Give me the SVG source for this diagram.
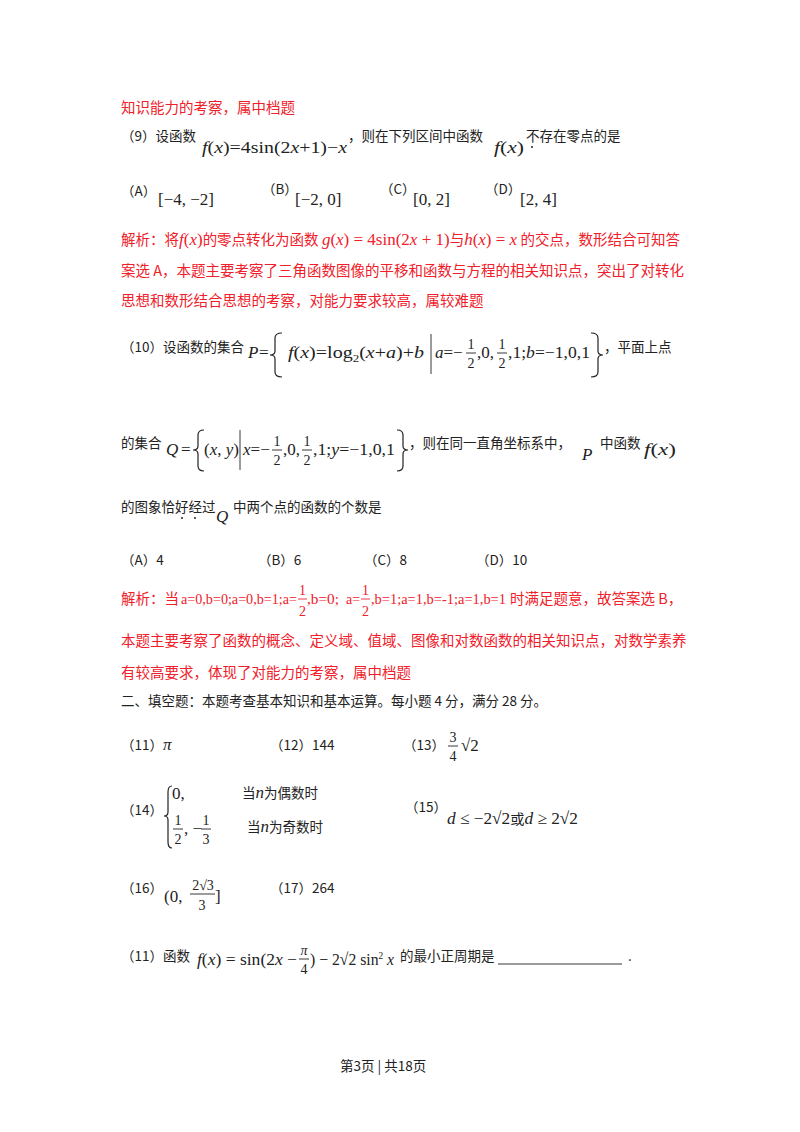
<svg xmlns="http://www.w3.org/2000/svg" width="800" height="1132" viewBox="0 0 800 1132">
<style>
.c{font-family:"Noto Sans CJK SC","Liberation Serif",serif;font-size:13.5px;fill:#222}
.r{font-family:"Noto Sans CJK SC","Liberation Serif",serif;font-size:14.5px;fill:#f0202a}
.m{font-family:"Liberation Serif",serif;font-size:17px;fill:#222}
.mr{font-family:"Liberation Serif",serif;font-size:17px;fill:#f0202a}
.i{font-style:italic}
.s{font-family:"Liberation Serif",serif;font-size:14px;fill:#222;text-anchor:middle}
.sr{font-family:"Liberation Serif",serif;font-size:14px;fill:#f0202a}
.ln{stroke:#222;stroke-width:0.9}
.br{stroke:#222;stroke-width:1.2;fill:none}
</style>
<rect width="800" height="1132" fill="#fff"/>
<text class="r" x="121" y="113">知识能力的考察，属中档题</text>
<text class="c" x="121" y="141">（9）设函数</text>
<text class="m" x="202" y="153" textLength="145" lengthAdjust="spacingAndGlyphs"><tspan class="i">f</tspan>(<tspan class="i">x</tspan>)=4sin(2<tspan class="i">x</tspan>+1)−<tspan class="i">x</tspan></text>
<text class="c" x="348" y="141">，则在下列区间中函数</text>
<text class="m" x="494" y="153" textLength="30" lengthAdjust="spacingAndGlyphs"><tspan class="i">f</tspan>(<tspan class="i">x</tspan>)</text>
<text class="c" x="526" y="141">不存在零点的是</text>
<circle cx="532" cy="147" r="1" fill="#222"/>
<text class="c" x="121" y="196">（A）</text><text class="m" x="158" y="205" font-size="19">[−4, −2]</text>
<text class="c" x="262" y="194">（B）</text><text class="m" x="295" y="205" font-size="19">[−2, 0]</text>
<text class="c" x="380" y="194">（C）</text><text class="m" x="413" y="205" font-size="19">[0, 2]</text>
<text class="c" x="485" y="194">（D）</text><text class="m" x="520" y="205" font-size="19">[2, 4]</text>
<text class="r" x="121" y="245">解析：将<tspan class="mr i">f</tspan><tspan class="mr">(</tspan><tspan class="mr i">x</tspan><tspan class="mr">)</tspan>的零点转化为函数 <tspan class="mr i">g</tspan><tspan class="mr">(</tspan><tspan class="mr i">x</tspan><tspan class="mr">) = 4sin(2</tspan><tspan class="mr i">x</tspan><tspan class="mr"> + 1)</tspan>与<tspan class="mr i">h</tspan><tspan class="mr">(</tspan><tspan class="mr i">x</tspan><tspan class="mr">) = </tspan><tspan class="mr i">x</tspan> 的交点，数形结合可知答</text>
<text class="r" x="121" y="276">案选 A，本题主要考察了三角函数图像的平移和函数与方程的相关知识点，突出了对转化</text>
<text class="r" x="121" y="306">思想和数形结合思想的考察，对能力要求较高，属较难题</text>

<text class="c" x="121" y="352">（10）设函数的集合</text>
<text class="m i" x="248" y="358">P</text><text class="m" x="259" y="358">=</text>
<path class="br" d="M282 333 Q275 333 275 338 L275 351 Q275 355 270 355 Q275 355 275 359 L275 372 Q275 377 282 377"/>
<text class="m" x="288" y="358" textLength="136" lengthAdjust="spacingAndGlyphs"><tspan class="i">f</tspan>(<tspan class="i">x</tspan>)=log<tspan font-size="11" dy="4">2</tspan><tspan dy="-4">(</tspan><tspan class="i">x</tspan>+<tspan class="i">a</tspan>)+<tspan class="i">b</tspan></text>
<line class="ln" x1="431" y1="334" x2="431" y2="374"/>
<text class="m" x="435" y="358"><tspan class="i">a</tspan>=−</text>
<text class="s" x="471" y="349">1</text><line class="ln" x1="466" y1="353" x2="476" y2="353"/><text class="s" x="471" y="368">2</text>
<text class="m" x="477" y="358">,0,</text>
<text class="s" x="502" y="349">1</text><line class="ln" x1="497" y1="353" x2="507" y2="353"/><text class="s" x="502" y="368">2</text>
<text class="m" x="508" y="358" textLength="82" lengthAdjust="spacingAndGlyphs">,1;<tspan class="i">b</tspan>=−1,0,1</text>
<path class="br" d="M591 333 Q598 333 598 338 L598 351 Q598 355 603 355 Q598 355 598 359 L598 372 Q598 377 591 377"/>
<text class="c" x="604" y="352">，平面上点</text>

<text class="c" x="121" y="448">的集合</text>
<text class="m i" x="166" y="455">Q</text><text class="m" x="181" y="455">=</text>
<path class="br" d="M204 430 Q198 430 198 435 L198 446 Q198 450 193 450 Q198 450 198 454 L198 466 Q198 471 204 471"/>
<text class="m" x="204" y="455">(<tspan class="i">x</tspan>, <tspan class="i">y</tspan>)</text>
<line class="ln" x1="240" y1="430" x2="240" y2="470"/>
<text class="m" x="243" y="455"><tspan class="i">x</tspan>=−</text>
<text class="s" x="277" y="446">1</text><line class="ln" x1="272" y1="450" x2="282" y2="450"/><text class="s" x="277" y="465">2</text>
<text class="m" x="283" y="455">,0,</text>
<text class="s" x="307" y="446">1</text><line class="ln" x1="302" y1="450" x2="312" y2="450"/><text class="s" x="307" y="465">2</text>
<text class="m" x="313" y="455" textLength="82" lengthAdjust="spacingAndGlyphs">,1;<tspan class="i">y</tspan>=−1,0,1</text>
<path class="br" d="M397 430 Q403 430 403 435 L403 446 Q403 450 408 450 Q403 450 403 454 L403 466 Q403 471 397 471"/>
<text class="c" x="409" y="448">，则在同一直角坐标系中，</text>
<text class="m i" x="582" y="460">P</text>
<text class="c" x="600" y="448">中函数</text>
<text class="m" x="644" y="455" textLength="32" lengthAdjust="spacingAndGlyphs"><tspan class="i">f</tspan>(<tspan class="i">x</tspan>)</text>

<text class="c" x="121" y="512">的图象恰好经过</text>
<circle cx="182" cy="518" r="1" fill="#222"/><circle cx="195" cy="518" r="1" fill="#222"/>
<text class="m i" x="216" y="522">Q</text>
<text class="c" x="233" y="512">中两个点的函数的个数是</text>
<text class="c" x="121" y="565">（A）4</text>
<text class="c" x="258" y="565">（B）6</text>
<text class="c" x="364" y="565">（C）8</text>
<text class="c" x="476" y="565">（D）10</text>

<text class="r" x="121" y="604">解析：当</text>
<text class="sr" x="181" y="604" textLength="116" lengthAdjust="spacingAndGlyphs">a=0,b=0;a=0,b=1;a=</text>
<text class="sr" x="299" y="595">1</text><line x1="298" y1="599" x2="307" y2="599" stroke="#f0202a" stroke-width="0.9"/><text class="sr" x="299" y="616">2</text>
<text class="sr" x="307" y="604" textLength="32" lengthAdjust="spacingAndGlyphs">,b=0;</text>
<text class="sr" x="346" y="604">a=</text>
<text class="sr" x="362" y="595">1</text><line x1="361" y1="599" x2="370" y2="599" stroke="#f0202a" stroke-width="0.9"/><text class="sr" x="362" y="616">2</text>
<text class="sr" x="371" y="604" textLength="135" lengthAdjust="spacingAndGlyphs">,b=1;a=1,b=-1;a=1,b=1</text>
<text class="r" x="510" y="604">时满足题意，故答案选 B，</text>
<text class="r" x="121" y="646">本题主要考察了函数的概念、定义域、值域、图像和对数函数的相关知识点，对数学素养</text>
<text class="r" x="121" y="678">有较高要求，体现了对能力的考察，属中档题</text>
<text class="c" x="121" y="706">二、填空题：本题考查基本知识和基本运算。每小题 4 分，满分 28 分。</text>

<text class="c" x="121" y="750">（11）<tspan class="m i" font-size="15">π</tspan></text>
<text class="c" x="270" y="750">（12）144</text>
<text class="c" x="403" y="750">（13）</text>
<text class="s" x="453" y="742">3</text><line class="ln" x1="448" y1="746" x2="458" y2="746"/><text class="s" x="453" y="761">4</text>
<text class="m" x="461" y="751" font-size="16">√2</text>

<text class="c" x="121" y="815">（14）</text>
<path class="br" d="M172 786 Q168 786 168 792 L168 812 Q168 816 164 816 Q168 816 168 820 L168 842 Q168 848 172 848"/>
<text class="m" x="172" y="799" font-size="15">0,</text>
<text class="c" x="242" y="798">当<tspan class="m i" font-size="15">n</tspan>为偶数时</text>
<text class="s" x="178" y="825">1</text><line class="ln" x1="173" y1="829" x2="183" y2="829"/><text class="s" x="178" y="844">2</text>
<text class="m" x="184" y="834" font-size="15">, −</text>
<text class="s" x="206" y="825">1</text><line class="ln" x1="201" y1="829" x2="211" y2="829"/><text class="s" x="206" y="844">3</text>
<text class="c" x="247" y="832">当<tspan class="m i" font-size="15">n</tspan>为奇数时</text>
<text class="c" x="405" y="812">（15）</text>
<text class="m" x="447" y="824" font-size="16" textLength="131" lengthAdjust="spacingAndGlyphs"><tspan class="i">d</tspan> ≤ −2√2<tspan font-family="Noto Sans CJK SC" font-size="14">或</tspan><tspan class="i">d</tspan> ≥ 2√2</text>

<text class="c" x="121" y="893">（16）</text>
<text class="m" x="164" y="902" font-size="15">(0,</text>
<text class="s" x="203" y="890">2√3</text>
<line class="ln" x1="190" y1="894" x2="215" y2="894"/><text class="s" x="202" y="910">3</text>
<text class="m" x="215" y="902" font-size="15">]</text>
<text class="c" x="270" y="893">（17）264</text>

<text class="c" x="121" y="961">（11）函数</text>
<text class="m" x="197" y="965" font-size="16" textLength="100" lengthAdjust="spacingAndGlyphs"><tspan class="i">f</tspan>(<tspan class="i">x</tspan>) = sin(2<tspan class="i">x</tspan> −</text>
<text class="s i" x="304" y="955">π</text><line class="ln" x1="299" y1="959" x2="309" y2="959"/><text class="s" x="304" y="974">4</text>
<text class="m" x="310" y="965" font-size="16" textLength="84" lengthAdjust="spacingAndGlyphs">) − 2√2 sin<tspan font-size="10" dy="-6">2</tspan><tspan dy="6"> </tspan><tspan class="i">x</tspan></text>
<text class="c" x="400" y="961">的最小正周期是</text>
<line class="ln" x1="498" y1="964" x2="622" y2="964"/>
<text class="c" x="628" y="961">.</text>
<text class="c" x="340" y="1071" font-size="12">第3页  | 共18页</text>
</svg>
